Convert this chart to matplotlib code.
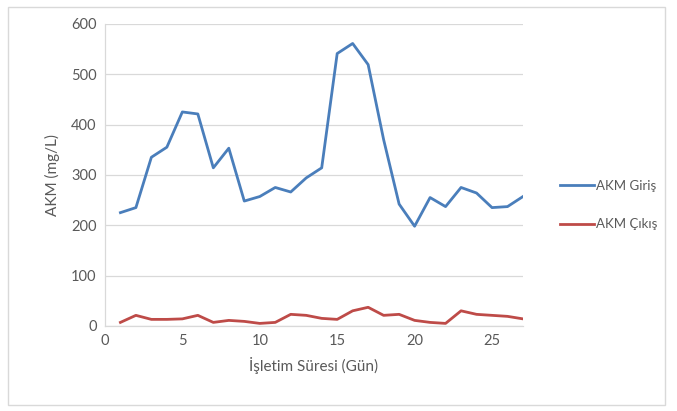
import matplotlib
matplotlib.use("Agg")
import matplotlib.pyplot as plt
from matplotlib.patches import Rectangle

days = list(range(1, 28))
akm_giris = [225, 235, 335, 355, 425, 421, 314, 353, 248, 257, 275, 266, 294, 314,
             541, 561, 519, 370, 242, 198, 255, 237, 275, 264, 235, 237, 257]
akm_cikis = [7, 21, 13, 13, 14, 21, 7, 11, 9, 5, 7, 23, 21, 15,
             13, 30, 37, 21, 23, 11, 7, 5, 30, 23, 21, 19, 14]
x_ticks = [0, 5, 10, 15, 20, 25]
y_ticks = [0, 100, 200, 300, 400, 500, 600]

plt.rcParams['font.family'] = ['Lato', 'DejaVu Sans']
text_color = '#595959'

fig = plt.figure(figsize=(6.77, 4.11), dpi=100)
fig.patches.append(Rectangle((0.012, 0.015), 0.97, 0.968, transform=fig.transFigure,
                             fill=False, edgecolor='#d9d9d9', linewidth=1.0))

ax = fig.add_axes([0.155, 0.207, 0.6175, 0.735])
ax.plot(days, akm_giris, color='#4a7ebb', linewidth=2.0, label='AKM Giriş')
ax.plot(days, akm_cikis, color='#be4b48', linewidth=2.0, label='AKM Çıkış')

ax.set_xlim(0, 27)
ax.set_ylim(0, 600)
ax.set_xticks(x_ticks)
ax.set_yticks(y_ticks)
ax.grid(axis='y', color='#d9d9d9', linewidth=0.9)
ax.set_axisbelow(True)
for side in ['top', 'right']:
    ax.spines[side].set_visible(False)
for side in ['left', 'bottom']:
    ax.spines[side].set_color('#d9d9d9')
    ax.spines[side].set_linewidth(0.9)
ax.tick_params(length=0, labelsize=10.5, labelcolor=text_color, pad=6)

ax.set_xlabel('İşletim Süresi (Gün)', fontsize=11, color=text_color, labelpad=6)
ax.set_ylabel('AKM (mg/L)', fontsize=11, color=text_color, labelpad=8)

leg = ax.legend(loc='center left', bbox_to_anchor=(1.06, 0.40), frameon=False,
                fontsize=9.5, handlelength=2.6, handletextpad=0.15, labelspacing=2.0)
for t in leg.get_texts():
    t.set_color(text_color)

fig.savefig('out.png', dpi=100, facecolor='white')
